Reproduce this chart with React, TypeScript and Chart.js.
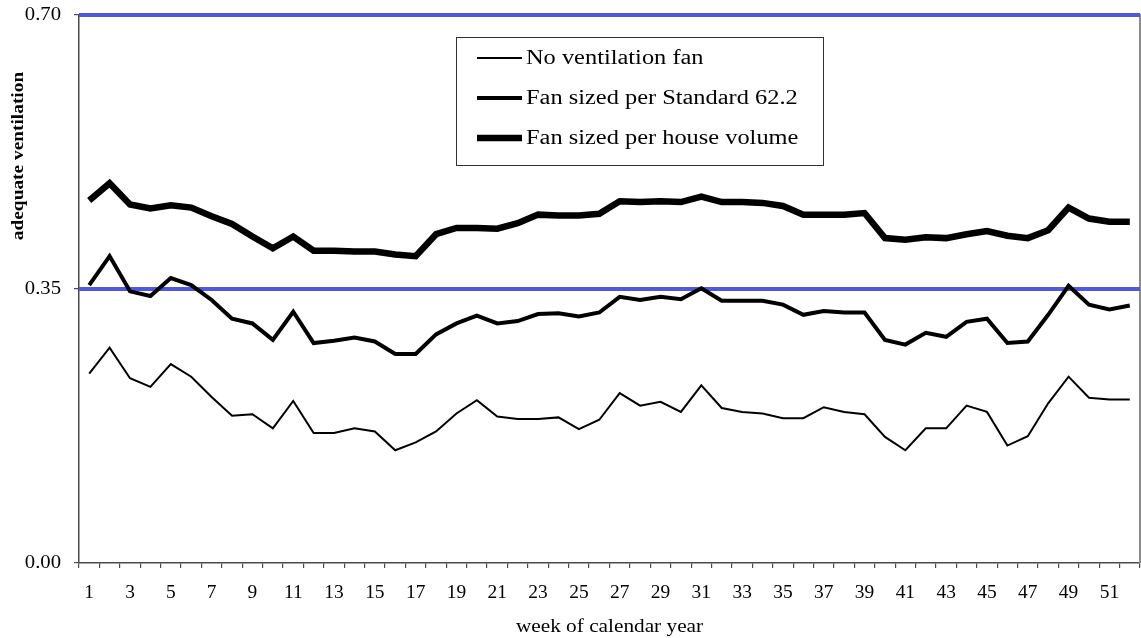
import React, { useEffect, useRef } from 'react';
import { Chart, registerables } from 'chart.js';

Chart.register(...registerables);

const weeks = [
  '1', '2', '3', '4', '5', '6', '7', '8', '9', '10',
  '11', '12', '13', '14', '15', '16', '17', '18', '19', '20',
  '21', '22', '23', '24', '25', '26', '27', '28', '29', '30',
  '31', '32', '33', '34', '35', '36', '37', '38', '39', '40',
  '41', '42', '43', '44', '45', '46', '47', '48', '49', '50',
  '51', '52',
];

const noFan = [
  0.242, 0.275, 0.236, 0.225, 0.254, 0.238, 0.212, 0.188, 0.190, 0.172,
  0.207, 0.166, 0.166, 0.172, 0.168, 0.144, 0.154, 0.168, 0.191, 0.208,
  0.187, 0.184, 0.184, 0.186, 0.171, 0.183, 0.217, 0.201, 0.206, 0.193,
  0.227, 0.198, 0.193, 0.191, 0.185, 0.185, 0.199, 0.193, 0.190, 0.161,
  0.144, 0.172, 0.172, 0.201, 0.193, 0.150, 0.162, 0.204, 0.238, 0.211,
  0.209, 0.209,
];

const std622 = [
  0.355, 0.392, 0.347, 0.341, 0.364, 0.355, 0.336, 0.312, 0.306, 0.285,
  0.321, 0.281, 0.284, 0.288, 0.283, 0.267, 0.267, 0.292, 0.306, 0.316,
  0.306, 0.309, 0.318, 0.319, 0.315, 0.320, 0.340, 0.336, 0.340, 0.337,
  0.351, 0.335, 0.335, 0.335, 0.330, 0.317, 0.322, 0.320, 0.320, 0.285,
  0.279, 0.294, 0.289, 0.308, 0.312, 0.281, 0.283, 0.317, 0.354, 0.330,
  0.324, 0.329,
];

const houseVolume = [
  0.463, 0.485, 0.458, 0.453, 0.457, 0.454, 0.443, 0.433, 0.417, 0.402,
  0.417, 0.399, 0.399, 0.398, 0.398, 0.394, 0.392, 0.420, 0.428, 0.428,
  0.427, 0.434, 0.445, 0.444, 0.444, 0.446, 0.462, 0.461, 0.462, 0.461,
  0.468, 0.461, 0.461, 0.460, 0.456, 0.445, 0.445, 0.445, 0.447, 0.415,
  0.413, 0.416, 0.415, 0.420, 0.424, 0.418, 0.415, 0.425, 0.454, 0.440,
  0.436, 0.436,
];

const seriesNames = ['No ventilation fan', 'Fan sized per Standard 62.2', 'Fan sized per house volume'];
const yTickValues = [0, 0.35, 0.7];
const yTickLabels = ['0.00', '0.35', '0.70'];
const referenceLevels = [0.35, 0.7];
const xTitle = 'week of calendar year';
const yTitle = 'adequate ventilation';

const SERIF = '"Liberation Serif", "Times New Roman", Times, serif';
const AXIS_COLOR = '#4a4a4a';

function drawText(
  ctx: CanvasRenderingContext2D,
  text: string,
  x: number,
  y: number,
  font: string,
  align: CanvasTextAlign,
  stretch: number,
  rotate = 0,
) {
  ctx.save();
  ctx.font = font;
  ctx.textAlign = align;
  ctx.textBaseline = 'middle';
  ctx.fillStyle = '#000';
  ctx.translate(x, y);
  if (rotate) ctx.rotate(rotate);
  ctx.scale(stretch, 1);
  ctx.fillText(text, 0, 0);
  ctx.restore();
}

const decorPlugin = {
  id: 'decor',
  beforeDatasetsDraw(chart: any) {
    const { ctx, chartArea: a, scales } = chart;
    ctx.save();
    ctx.strokeStyle = '#8c8c8c';
    ctx.lineWidth = 2;
    ctx.beginPath();
    ctx.moveTo(a.left, a.top);
    ctx.lineTo(a.right, a.top);
    ctx.lineTo(a.right, a.bottom);
    ctx.stroke();
    ctx.strokeStyle = '#5058e0';
    ctx.lineWidth = 4;
    referenceLevels.forEach((v) => {
      const py = scales.y.getPixelForValue(v);
      ctx.beginPath();
      ctx.moveTo(a.left, py);
      ctx.lineTo(a.right, py);
      ctx.stroke();
    });
    ctx.restore();
  },
  afterDraw(chart: any) {
    const { ctx, chartArea: a, scales } = chart;
    yTickValues.forEach((v, i) => {
      drawText(ctx, yTickLabels[i], a.left - 18, scales.y.getPixelForValue(v), `18px ${SERIF}`, 'right', 1.15);
    });
    weeks.forEach((w, i) => {
      if (i % 2 === 0) {
        drawText(ctx, w, scales.x.getPixelForValue(i), a.bottom + 30.5, `18.5px ${SERIF}`, 'center', 1.05);
      }
    });
    drawText(ctx, xTitle, (a.left + a.right) / 2, a.bottom + 64, `18.5px ${SERIF}`, 'center', 1.15);
    drawText(ctx, yTitle, 19, 156, `bold 16px ${SERIF}`, 'center', 1.21, -Math.PI / 2);

    const box = { x: 456, y: 37, w: 367, h: 128 };
    ctx.save();
    ctx.fillStyle = '#fff';
    ctx.fillRect(box.x, box.y, box.w, box.h);
    ctx.strokeStyle = '#333';
    ctx.lineWidth = 1;
    ctx.strokeRect(box.x + 0.5, box.y + 0.5, box.w, box.h);
    ctx.restore();
    const rows = [58, 98, 138];
    chart.data.datasets.forEach((ds: any, i: number) => {
      ctx.save();
      ctx.strokeStyle = '#000';
      ctx.lineWidth = ds.borderWidth;
      ctx.beginPath();
      ctx.moveTo(477, rows[i]);
      ctx.lineTo(522, rows[i]);
      ctx.stroke();
      ctx.restore();
      drawText(ctx, ds.label, 526, rows[i] + 0.5, `20px ${SERIF}`, 'left', 1.22);
    });
  },
};

export default function App() {
  const canvasRef = useRef<HTMLCanvasElement | null>(null);

  useEffect(() => {
    const canvas = canvasRef.current;
    if (!canvas) return;
    const lineStyle = {
      borderColor: '#000',
      backgroundColor: '#000',
      pointRadius: 0,
      pointHoverRadius: 0,
      tension: 0,
      fill: false,
      borderJoinStyle: 'miter' as const,
    };
    const chart = new Chart(canvas, {
      type: 'line',
      data: {
        labels: weeks,
        datasets: [
          { ...lineStyle, label: seriesNames[0], data: noFan, borderWidth: 2 },
          { ...lineStyle, label: seriesNames[1], data: std622, borderWidth: 4 },
          { ...lineStyle, label: seriesNames[2], data: houseVolume, borderWidth: 6.5 },
        ],
      },
      options: {
        animation: false,
        responsive: false,
        devicePixelRatio: 1,
        layout: { padding: { top: 15, right: 1, left: 0, bottom: 0 } },
        plugins: {
          legend: { display: false },
          tooltip: { enabled: false },
          title: { display: false },
        },
        scales: {
          x: {
            type: 'category',
            offset: true,
            grid: {
              offset: true,
              drawOnChartArea: false,
              drawTicks: true,
              tickLength: 5,
              color: AXIS_COLOR,
              lineWidth: 1.2,
            },
            border: { display: true, color: AXIS_COLOR, width: 1.5 },
            ticks: { display: false, autoSkip: false },
            afterFit: (s: any) => {
              s.height = 75;
            },
          },
          y: {
            min: 0,
            max: 0.7,
            afterBuildTicks: (s: any) => {
              s.ticks = yTickValues.map((v) => ({ value: v }));
            },
            grid: {
              drawOnChartArea: false,
              drawTicks: true,
              tickLength: 5,
              color: AXIS_COLOR,
              lineWidth: 1.2,
            },
            border: { display: true, color: AXIS_COLOR, width: 1.5 },
            ticks: { display: false },
            afterFit: (s: any) => {
              s.width = 79;
            },
          },
        },
      },
      plugins: [decorPlugin],
    });
    return () => chart.destroy();
  }, []);

  return (
    <div style={{ position: 'fixed', left: 0, top: 0, width: 1141, height: 638, background: '#fff' }}>
      <canvas ref={canvasRef} width={1141} height={638} style={{ display: 'block', width: 1141, height: 638 }} />
    </div>
  );
}
